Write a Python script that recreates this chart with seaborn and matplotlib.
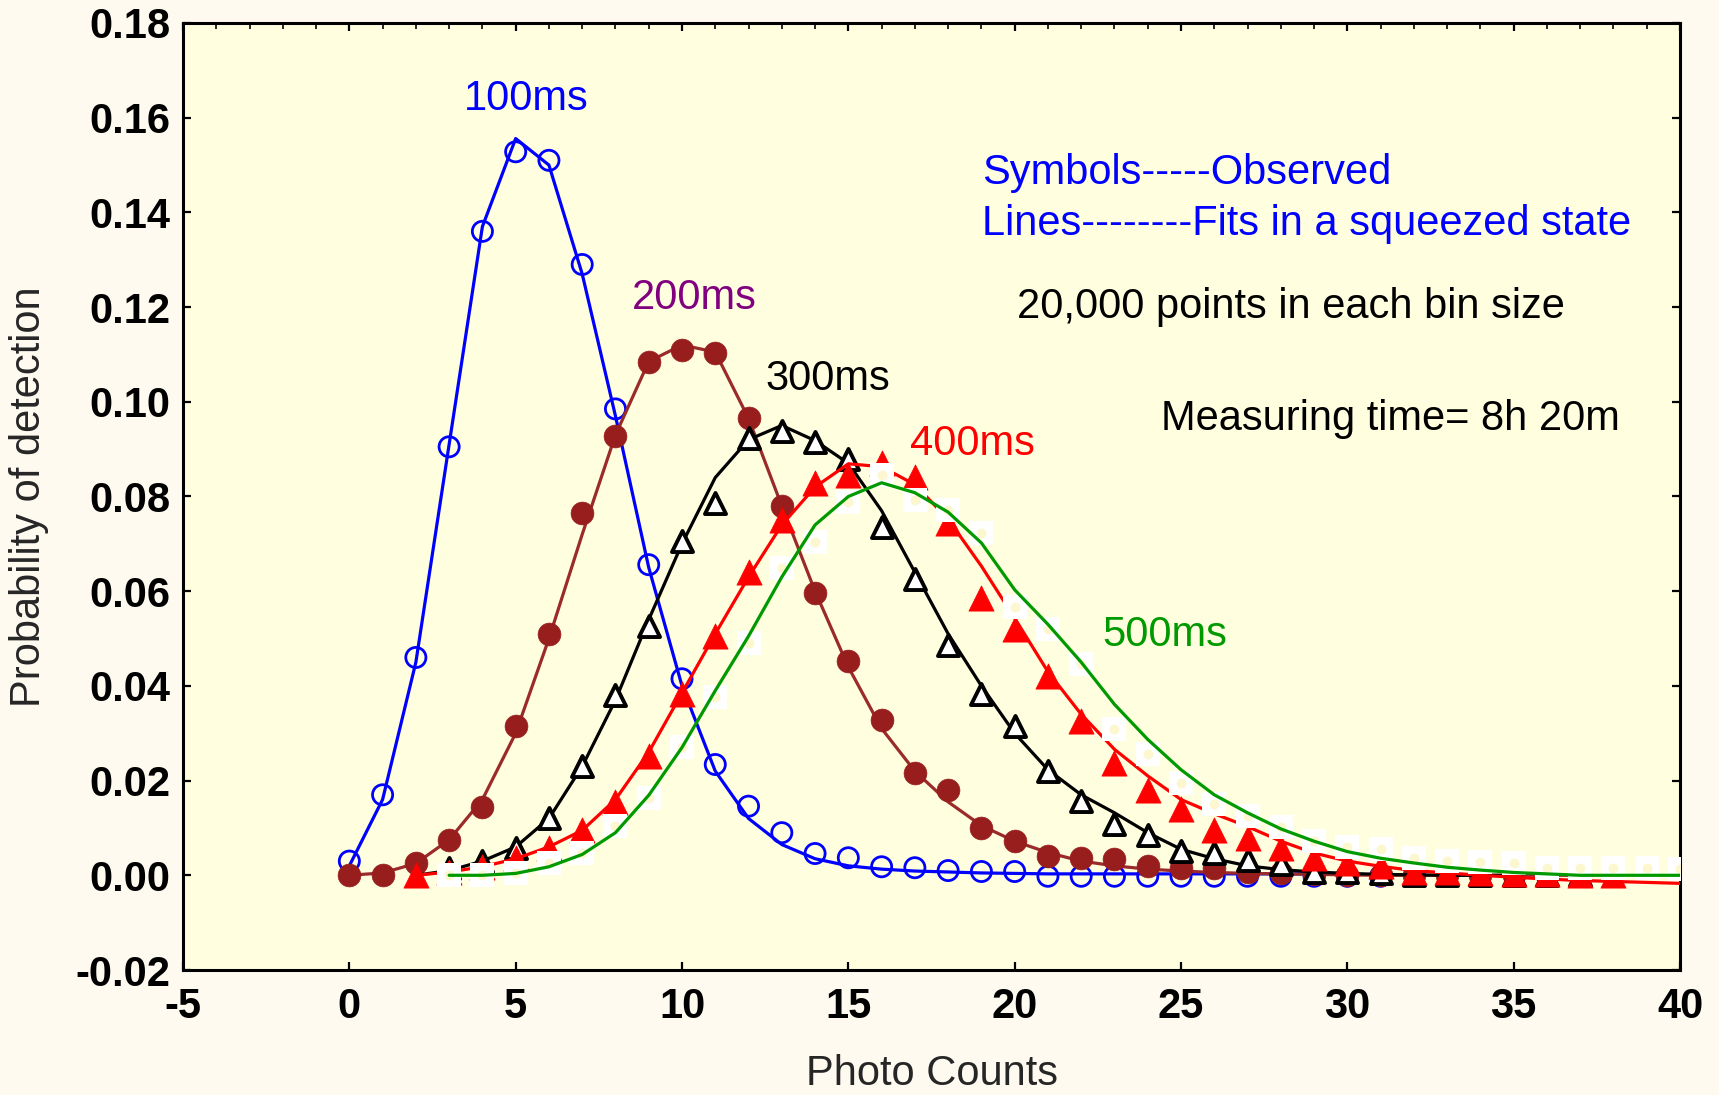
import matplotlib
matplotlib.use("Agg")
import matplotlib.pyplot as plt
import seaborn as sns
from matplotlib.ticker import MultipleLocator, FormatStrFormatter

# ---------------- data ----------------
x_100_obs = list(range(0, 32))
p_100_obs = [0.003, 0.017, 0.046, 0.0905, 0.136, 0.1528, 0.151, 0.129, 0.0985, 0.0656,
             0.0415, 0.0234, 0.0146, 0.009, 0.0046, 0.0037, 0.0018, 0.0016, 0.001, 0.0008,
             0.0008, -0.0002, -0.0002, -0.0002, -0.0002, -0.0002, -0.0002, -0.0002, -0.0002,
             -0.0002, -0.0002, -0.0002]
x_100_fit = list(range(0, 31))
p_100_fit = [0.002, 0.016, 0.045, 0.091, 0.137, 0.1556, 0.150, 0.127, 0.097, 0.065,
             0.040, 0.022, 0.012, 0.0065, 0.0035, 0.002, 0.0013, 0.0009, 0.0007, 0.0005,
             0.0004, 0.0003, 0.0003, 0.0003, 0.0003, 0.0003, 0.0003, 0.0003, 0.0003, 0.0003, 0.0003]

x_200_obs = list(range(0, 38))
p_200_obs = [0.0, 0.0, 0.0025, 0.0074, 0.0144, 0.0315, 0.051, 0.0765, 0.0928, 0.1085,
             0.111, 0.1104, 0.0965, 0.0779, 0.0596, 0.0452, 0.0329, 0.0215, 0.018, 0.0100,
             0.0073, 0.004, 0.0037, 0.0035, 0.0019, 0.0016, 0.0016, 0.0006, 0.0005, 0.0003,
             0.0001, 0.0, 0.0, 0.0, 0.0, 0.0, 0.0, 0.0]
x_200_fit = list(range(0, 38))
p_200_fit = [0.0, 0.0005, 0.0025, 0.0075, 0.016, 0.030, 0.050, 0.072, 0.093, 0.1085,
             0.112, 0.1105, 0.0965, 0.078, 0.060, 0.044, 0.031, 0.022, 0.0155, 0.0105,
             0.0072, 0.0048, 0.003, 0.002, 0.0013, 0.0009, 0.0006, 0.0004, 0.0003, 0.0002,
             0.0001, 0.0, 0.0, 0.0, 0.0, 0.0, 0.0, 0.0]

x_300_obs = list(range(3, 38))
p_300_obs = [0.0015, 0.003, 0.0058, 0.012, 0.023, 0.038, 0.0527, 0.0705, 0.0786, 0.0923,
             0.0939, 0.0916, 0.088, 0.0735, 0.0626, 0.0487, 0.0383, 0.0315, 0.0221, 0.0156,
             0.0108, 0.0085, 0.0051, 0.0047, 0.0032, 0.0024, 0.0008, 0.0007, 0.0004, 0.0,
             0.0, 0.0, 0.0, 0.0, 0.0]
x_300_fit = list(range(2, 36))
p_300_fit = [0.0, 0.001, 0.003, 0.006, 0.012, 0.023, 0.037, 0.054, 0.070, 0.084,
             0.092, 0.0950, 0.0918, 0.087, 0.077, 0.064, 0.051, 0.040, 0.030, 0.0223,
             0.017, 0.0132, 0.009, 0.0055, 0.0035, 0.002, 0.0012, 0.0007, 0.0004, 0.0002,
             0.0001, 0.0, 0.0, 0.0]

x_400_obs = list(range(2, 39))
p_400_obs = [0.0, 0.0008, 0.0018, 0.0037, 0.0058, 0.0095, 0.0154, 0.0253, 0.0383, 0.0506,
             0.064, 0.075, 0.0828, 0.0846, 0.087, 0.0841, 0.0744, 0.0585, 0.052, 0.042,
             0.0326, 0.0238, 0.018, 0.0139, 0.0096, 0.0079, 0.0058, 0.0037, 0.0026, 0.0019,
             0.0006, 0.0008, 0.0005, 0.0003, 0.0002, 0.0001, 0.0001]
x_400_fit = list(range(2, 41))
p_400_fit = [0.0, 0.0007, 0.0018, 0.0035, 0.006, 0.0095, 0.016, 0.026, 0.0385, 0.051,
             0.063, 0.074, 0.082, 0.0869, 0.0863, 0.0825, 0.0752, 0.0653, 0.0543, 0.043,
             0.034, 0.0266, 0.021, 0.016, 0.013, 0.0103, 0.0072, 0.0047, 0.003, 0.0019,
             0.001, 0.0005, 0.0, -0.0004, -0.0008, -0.0011, -0.0013, -0.0015, -0.0017]

x_500_obs = list(range(3, 41))
p_500_obs = [0.0, 0.0, 0.0005, 0.0025, 0.0048, 0.0105, 0.0164, 0.027, 0.0376, 0.049,
             0.0649, 0.0704, 0.0789, 0.0846, 0.0793, 0.0771, 0.0723, 0.0566, 0.052, 0.0447,
             0.031, 0.0257, 0.0194, 0.0151, 0.0126, 0.0101, 0.0073, 0.0059, 0.0055, 0.0036,
             0.0031, 0.0028, 0.0026, 0.0016, 0.0016, 0.0015, 0.0015, 0.0013]
x_500_fit = list(range(3, 41))
p_500_fit = [0.0, 0.0, 0.0004, 0.0018, 0.0044, 0.009, 0.0169, 0.027, 0.039, 0.0505,
             0.063, 0.074, 0.080, 0.0829, 0.0808, 0.0767, 0.0702, 0.0603, 0.053, 0.045,
             0.0361, 0.0287, 0.0223, 0.017, 0.0132, 0.0098, 0.0072, 0.005, 0.0036, 0.0026,
             0.0017, 0.0011, 0.0006, 0.0003, 0.0, 0.0, 0.0, 0.0]

series_labels = ["100ms", "200ms", "300ms", "400ms", "500ms"]
x_ticks = [-5, 0, 5, 10, 15, 20, 25, 30, 35, 40]
y_ticks = [-0.02, 0.0, 0.02, 0.04, 0.06, 0.08, 0.10, 0.12, 0.14, 0.16, 0.18]

# ---------------- style ----------------
sns.set_style("ticks")
plt.rcParams["font.family"] = ["Liberation Sans", "DejaVu Sans"]
plt.rcParams["axes.unicode_minus"] = False

fig = plt.figure(figsize=(17.19, 10.95), dpi=100, facecolor="#fffaf0")
ax = fig.add_axes([183 / 1719, 1 - 970 / 1095, (1680 - 183) / 1719, (970 - 23) / 1095])
ax.set_facecolor("#ffffe0")

BLUE = "#0000ff"
BROWN_M = "#981e1e"
BROWN_L = "#9b2a2a"
RED = "#ff0000"
GREEN = "#009900"

lw = 2.3
# 100 ms
sns.lineplot(x=x_100_fit, y=p_100_fit, ax=ax, color=BLUE, lw=lw, estimator=None, sort=False, zorder=2)
sns.scatterplot(x=x_100_obs, y=p_100_obs, ax=ax, marker="o", s=210, facecolor="none",
                edgecolor=BLUE, linewidth=2.0, zorder=3)
# 200 ms
sns.lineplot(x=x_200_fit, y=p_200_fit, ax=ax, color=BROWN_L, lw=lw, estimator=None, sort=False, zorder=4)
sns.scatterplot(x=x_200_obs, y=p_200_obs, ax=ax, marker="o", s=270, color=BROWN_M,
                edgecolor=BROWN_M, linewidth=0.5, zorder=5)
# 300 ms
sns.lineplot(x=x_300_fit, y=p_300_fit, ax=ax, color="black", lw=lw, estimator=None, sort=False, zorder=6)
sns.scatterplot(x=x_300_obs, y=p_300_obs, ax=ax, marker="^", s=230, facecolor="white",
                edgecolor="black", linewidth=2.8, zorder=7)
# 400 ms
sns.lineplot(x=x_400_fit, y=p_400_fit, ax=ax, color=RED, lw=lw, estimator=None, sort=False, zorder=8)
sns.scatterplot(x=x_400_obs, y=p_400_obs, ax=ax, marker="^", s=330, color=RED,
                edgecolor=RED, linewidth=0.5, zorder=9)
# 500 ms
sns.scatterplot(x=x_500_obs, y=p_500_obs, ax=ax, marker="s", s=300, color="white",
                edgecolor="white", linewidth=0, zorder=10)
sns.scatterplot(x=x_500_obs, y=p_500_obs, ax=ax, marker="o", s=50, color="#fcf7cf",
                edgecolor="#fcf7cf", linewidth=0, zorder=11)
sns.lineplot(x=x_500_fit, y=p_500_fit, ax=ax, color=GREEN, lw=lw, estimator=None, sort=False, zorder=12)

# ---------------- axes ----------------
ax.set_xlim(-5, 40)
ax.set_ylim(-0.02, 0.18)
ax.set_xticks(x_ticks)
ax.set_yticks(y_ticks)
ax.yaxis.set_major_formatter(FormatStrFormatter("%.2f"))
ax.xaxis.set_major_formatter(FormatStrFormatter("%d"))
ax.xaxis.set_minor_locator(MultipleLocator(1))
for s in ax.spines.values():
    s.set_linewidth(2.2)
    s.set_color("black")
ax.tick_params(axis="both", which="major", direction="in", length=6, width=1.6,
               labelsize=30, colors="black")
ax.tick_params(axis="x", which="major", top=True, bottom=True, pad=12)
ax.tick_params(axis="y", which="major", left=True, right=True, pad=9)
ax.tick_params(axis="x", which="minor", direction="in", top=True, bottom=False, length=4, width=1.4)
for lab in ax.get_xticklabels() + ax.get_yticklabels():
    lab.set_fontweight("bold")

ax.set_xlabel("Photo Counts", fontsize=30)
ax.set_ylabel("Probability of detection", fontsize=30)
ax.xaxis.set_label_coords(0.5, -0.089)
ax.yaxis.set_label_coords(-0.0895, 0.5)

# ---------------- annotations ----------------
fs = 30
ax.text(3.45, 0.1616, series_labels[0], color=BLUE, fontsize=fs, zorder=20)
ax.text(8.48, 0.1197, series_labels[1], color="#800080", fontsize=fs, zorder=20)
ax.text(12.51, 0.1025, series_labels[2], color="black", fontsize=fs, zorder=20)
ax.text(16.84, 0.0888, series_labels[3], color=RED, fontsize=fs, zorder=20)
ax.text(22.62, 0.0484, series_labels[4], color=GREEN, fontsize=fs, zorder=20)
ax.text(19.01, 0.1461, "Symbols-----Observed", color=BLUE, fontsize=fs, zorder=20)
ax.text(19.01, 0.1353, "Lines--------Fits in a squeezed state", color=BLUE, fontsize=fs, zorder=20)
ax.text(20.06, 0.1176, "20,000 points in each bin size", color="black", fontsize=fs, zorder=20)
ax.text(24.4, 0.0941, "Measuring time= 8h 20m", color="black", fontsize=fs, zorder=20)

fig.savefig("out.png", dpi=100, facecolor=fig.get_facecolor())
